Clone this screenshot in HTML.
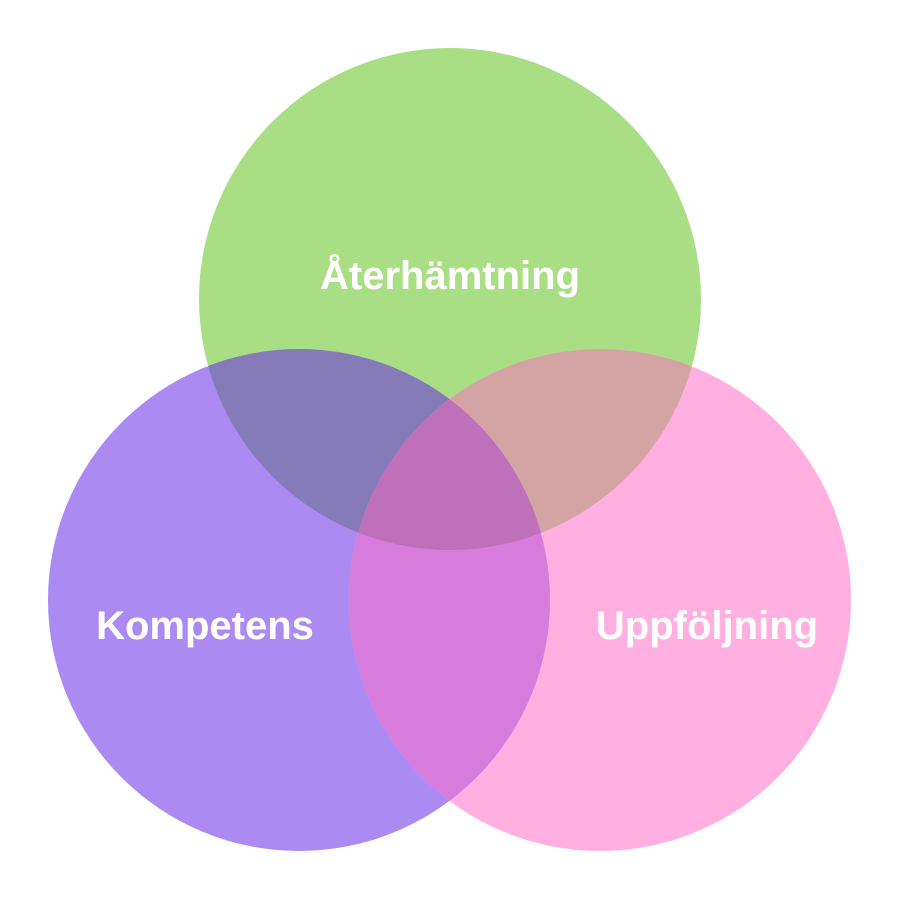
<!DOCTYPE html>
<html><head><meta charset="utf-8"><style>html,body{margin:0;padding:0;background:#fff}svg{display:block}</style></head>
<body>
<svg width="900" height="900" viewBox="0 0 900 900" xmlns="http://www.w3.org/2000/svg">
<defs>
<clipPath id="cG"><circle cx="450" cy="299" r="251"/></clipPath>
<clipPath id="cP"><circle cx="299" cy="600" r="251"/></clipPath>
<clipPath id="cGP" clip-path="url(#cG)"><circle cx="299" cy="600" r="251"/></clipPath>
</defs>
<rect width="900" height="900" fill="#fff"/>
<circle cx="450" cy="299" r="251" fill="#a9de85"/>
<circle cx="299" cy="600" r="251" fill="#ab8af2"/>
<circle cx="600" cy="600" r="251" fill="#ffb0e0"/>
<circle cx="299" cy="600" r="251" fill="#847bb8" clip-path="url(#cG)"/>
<circle cx="600" cy="600" r="251" fill="#d4a4a4" clip-path="url(#cG)"/>
<circle cx="600" cy="600" r="251" fill="#d77cdc" clip-path="url(#cP)"/>
<circle cx="600" cy="600" r="251" fill="#bf70ba" clip-path="url(#cGP)"/>
<g font-family="Liberation Sans, sans-serif" font-weight="bold" font-size="40" fill="#fff" text-anchor="middle">
<text x="450" y="289">Återhämtning</text>
<text x="205" y="639">Kompetens</text>
<text x="707" y="639">Uppföljning</text>
</g>
</svg>
</body></html>
